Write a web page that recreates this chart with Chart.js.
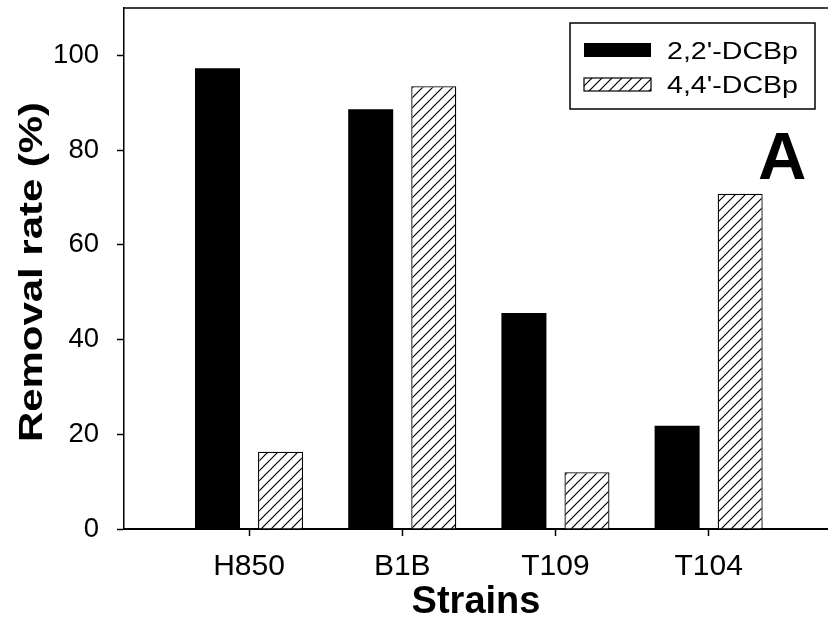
<!DOCTYPE html>
<html><head><meta charset="utf-8">
<style>html,body{margin:0;padding:0;background:#fff}#wrap{width:828px;height:625px}</style>
</head><body><div id="wrap"><canvas id="c" width="828" height="625"></canvas></div>
<script src="https://cdn.jsdelivr.net/npm/chart.js@4/dist/chart.umd.min.js"></script>
<script>
// ---- data ----
const categories = ['H850', 'B1B', 'T109', 'T104'];
const seriesLabels = ["2,2'-DCBp", "4,4'-DCBp"];
const values22 = [97.3, 88.6, 45.6, 21.8];
const values44 = [16.3, 93.5, 12.0, 70.8];
const yTickValues = [0, 20, 40, 60, 80, 100];
const yMin = 0, yMax = 110;
const xMin = -0.816, xMax = 3.779;
const xTitle = 'Strains';
const yTitle = 'Removal rate (%)';
const panelLabel = 'A';

const FONT = "'Liberation Sans', Arial, Helvetica, sans-serif";

function makeHatch() {
  const s = 10;
  const c = document.createElement('canvas');
  c.width = s; c.height = s;
  const g = c.getContext('2d');
  g.fillStyle = '#fff'; g.fillRect(0, 0, s, s);
  g.strokeStyle = '#000'; g.lineWidth = 1.2;
  g.beginPath();
  g.moveTo(0, s); g.lineTo(s, 0);
  g.moveTo(-s / 2, s / 2); g.lineTo(s / 2, -s / 2);
  g.moveTo(s / 2, s * 1.5); g.lineTo(s * 1.5, s / 2);
  g.stroke();
  return document.getElementById('c').getContext('2d').createPattern(c, 'repeat');
}
const hatch = makeHatch();

const extras = {
  id: 'extras',
  afterDraw(chart) {
    const ctx = chart.ctx;
    const a = chart.chartArea;
    ctx.save();
    // top frame line
    ctx.strokeStyle = '#000';
    ctx.lineWidth = 1.5;
    ctx.beginPath();
    ctx.moveTo(a.left, a.top);
    ctx.lineTo(a.right, a.top);
    ctx.stroke();

    // y axis title (slightly stretched along its length like the original)
    ctx.font = 'bold 34px ' + FONT;
    ctx.fillStyle = '#000';
    ctx.textAlign = 'center';
    ctx.textBaseline = 'alphabetic';
    const tw = ctx.measureText(yTitle).width;
    ctx.save();
    ctx.translate(42, 272);
    ctx.rotate(-Math.PI / 2);
    ctx.scale(340 / tw, 1);
    ctx.fillText(yTitle, 0, 0);
    ctx.restore();

    // legend box
    const bx = 570, by = 23, bw = 245, bh = 86;
    ctx.lineWidth = 1.5;
    ctx.strokeStyle = '#000';
    ctx.strokeRect(bx, by, bw, bh);
    const rows = [
      { sy: 43, sh: 14, ty: 52.8 },
      { sy: 78, sh: 13, ty: 87 }
    ];
    chart.data.datasets.forEach((ds, i) => {
      const r = rows[i];
      ctx.fillStyle = ds.backgroundColor;
      ctx.fillRect(584, r.sy, 67, r.sh);
      if (ds.borderWidth) {
        ctx.lineWidth = 1.2;
        ctx.strokeStyle = '#000';
        ctx.strokeRect(584, r.sy, 67, r.sh);
      }
      ctx.font = '23px ' + FONT;
      ctx.fillStyle = '#000';
      ctx.textBaseline = 'middle';
      ctx.textAlign = 'left';
      const w = ctx.measureText(ds.label).width;
      ctx.save();
      ctx.translate(667, r.ty);
      ctx.scale(131 / w, 1);
      ctx.fillText(ds.label, 0, 0);
      ctx.restore();
    });

    // panel letter
    ctx.font = 'bold 67px ' + FONT;
    ctx.fillStyle = '#000';
    ctx.textBaseline = 'alphabetic';
    ctx.textAlign = 'left';
    ctx.fillText(panelLabel, 758, 179);
    ctx.restore();
  }
};

new Chart(document.getElementById('c'), {
  type: 'bar',
  data: {
    datasets: [
      {
        label: seriesLabels[0],
        data: categories.map((c, i) => ({ x: i, y: values22[i] })),
        backgroundColor: '#000',
        borderWidth: 0
      },
      {
        label: seriesLabels[1],
        data: categories.map((c, i) => ({ x: i, y: values44[i] })),
        backgroundColor: hatch,
        borderColor: '#000',
        borderWidth: 1.3,
        borderSkipped: 'start'
      }
    ]
  },
  options: {
    responsive: false,
    animation: false,
    devicePixelRatio: 1,
    categoryPercentage: 0.823,
    barPercentage: 0.714,
    layout: { padding: { top: 8, left: 0, right: 0, bottom: 0 } },
    plugins: { legend: { display: false }, tooltip: { enabled: false } },
    scales: {
      x: {
        type: 'linear',
        min: xMin, max: xMax,
        offset: false,
        grid: { display: true, drawOnChartArea: false, drawTicks: true, tickLength: 7, tickColor: '#000', tickWidth: 1.5, offset: false },
        border: { display: true, color: '#000', width: 2 },
        afterBuildTicks(scale) { scale.ticks = categories.map((c, i) => ({ value: i })); },
        afterFit(scale) { scale.height = 96; scale.paddingLeft = 0; scale.paddingRight = 0; },
        ticks: {
          color: '#000',
          font: { family: FONT, size: 30 },
          padding: 13,
          maxRotation: 0, autoSkip: false,
          callback: (v, i) => categories[i]
        },
        title: {
          display: true, text: xTitle, color: '#000',
          font: { family: FONT, size: 38, weight: 'bold', lineHeight: 1 },
          padding: { top: 0, bottom: 3 }
        }
      },
      y: {
        type: 'linear',
        min: yMin, max: yMax,
        grid: { display: true, drawOnChartArea: false, drawTicks: true, tickLength: 7, tickColor: '#000', tickWidth: 1.5 },
        border: { display: true, color: '#000', width: 1.5 },
        afterBuildTicks(scale) { scale.ticks = yTickValues.map(v => ({ value: v })); },
        afterFit(scale) { scale.width = 124; scale.paddingTop = 0; scale.paddingBottom = 0; },
        ticks: {
          color: '#000',
          font: { family: FONT, size: 27.5 },
          padding: 18,
          callback: v => String(v)
        },
        title: { display: false, text: yTitle }
      }
    }
  },
  plugins: [extras]
});
</script>
</body></html>
